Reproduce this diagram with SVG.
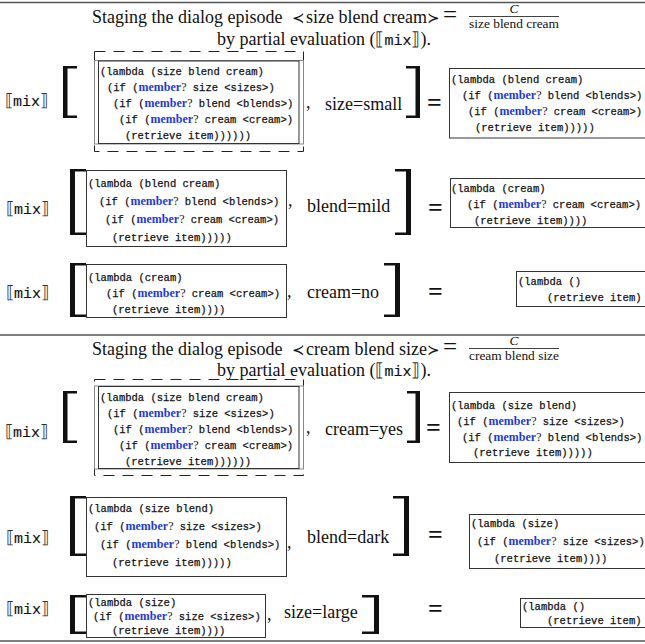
<svg xmlns="http://www.w3.org/2000/svg" width="645" height="644" viewBox="0 0 645 644">
<style>
.t{font-family:"Liberation Serif","Times New Roman","DejaVu Serif",serif;font-size:18px;fill:#111}
.sb{font-family:"DejaVu Serif",serif;fill:#333}
.mx{font-family:"Liberation Mono","DejaVu Sans Mono",monospace;font-size:15px;stroke:#111;stroke-width:0.15}
.c{font-family:"Liberation Mono","DejaVu Sans Mono",monospace;font-size:10.5px;fill:#111;stroke:#111;stroke-width:0.25}
.kw{font-family:"Liberation Serif","Times New Roman",serif;font-weight:bold;font-size:12px;fill:#1f3ad6;stroke:none}
.q{font-family:"Liberation Serif","Times New Roman",serif;font-size:12px;stroke:none}
.eq{font-family:"Liberation Serif","Times New Roman",serif;font-size:26px;font-weight:bold;fill:#111}
.fr{font-family:"Liberation Serif","Times New Roman",serif;font-size:13.4px;fill:#111}
.rel{font-family:"DejaVu Serif",serif;font-size:15px}
.box{fill:none;stroke:#333;stroke-width:1}
.gbox{fill:none;stroke:#888;stroke-width:1}
.dash{fill:none;stroke:#222;stroke-width:1;stroke-dasharray:11 8}
.br{fill:#111}
.rule{stroke:#555;stroke-width:1.5}
</style>

<g id="rules">
<line class="rule" x1="0" y1="2.5" x2="645" y2="2.5"/>
<line class="rule" x1="0" y1="335" x2="645" y2="335"/>
<line class="rule" x1="0" y1="641" x2="645" y2="641"/>
</g>

<g id="header1">
<text class="t" y="23"><tspan x="92">Staging the dialog episode </tspan><tspan class="rel" x="292">≺</tspan><tspan x="306">size blend cream</tspan><tspan class="rel" x="427">≻</tspan><tspan x="443" font-size="25">=</tspan></text>
<text class="fr" x="514" y="13" text-anchor="middle" font-style="italic">C</text>
<line x1="469" y1="16.5" x2="559" y2="16.5" stroke="#111" stroke-width="0.8"/>
<text class="fr" x="514" y="28" text-anchor="middle">size blend cream</text>
<text class="t" x="217" y="45">by partial evaluation (<tspan class="sb">⟦</tspan><tspan class="mx">mix</tspan><tspan class="sb">⟧</tspan>).</text>
</g>

<g id="row1">
<text class="t" x="5" y="106"><tspan class="sb" font-size="17">⟦</tspan><tspan class="mx">mix</tspan><tspan class="sb" font-size="17">⟧</tspan></text>
<path class="br" d="M63 66H77V68.5H67.5V115.5H77V118H63Z"/>
<g id="row1-arg">
<rect class="dash" x="94.5" y="51.5" width="209" height="100"/>
<rect class="gbox" x="94.5" y="60.5" width="209" height="83.5"/>
<rect class="box" x="98.5" y="61" width="200.5" height="82.5"/>
<text class="c" x="100" y="75">(lambda (size blend cream)</text>
<text class="c" x="107" y="91">(if (<tspan class="kw">member</tspan><tspan class="q">?</tspan> size &lt;sizes&gt;)</text>
<text class="c" x="113" y="107">(if (<tspan class="kw">member</tspan><tspan class="q">?</tspan> blend &lt;blends&gt;)</text>
<text class="c" x="119" y="123">(if (<tspan class="kw">member</tspan><tspan class="q">?</tspan> cream &lt;cream&gt;)</text>
<text class="c" x="125" y="139">(retrieve item))))))</text>
</g>
<text class="t"><tspan x="306" y="108">,</tspan><tspan x="325" y="110">size=small</tspan></text>
<path class="br" d="M420 66H406V68.5H415.5V115.5H406V118H420Z"/>
<text class="eq" x="427" y="111">=</text>
<g id="row1-result">
<rect class="box" x="449.5" y="68.5" width="250" height="69.5"/>
<text class="c" x="451" y="83">(lambda (blend cream)</text>
<text class="c" x="462" y="99">(if (<tspan class="kw">member</tspan><tspan class="q">?</tspan> blend &lt;blends&gt;)</text>
<text class="c" x="468" y="115">(if (<tspan class="kw">member</tspan><tspan class="q">?</tspan> cream &lt;cream&gt;)</text>
<text class="c" x="475" y="131">(retrieve item)))))</text>
</g>
</g>

<g id="row2">
<text class="t" x="6" y="214"><tspan class="sb" font-size="17">⟦</tspan><tspan class="mx">mix</tspan><tspan class="sb" font-size="17">⟧</tspan></text>
<path class="br" d="M70 169H86V171.5H75V232.5H86V235H70Z"/>
<g id="row2-arg">
<rect class="box" x="86.5" y="170.5" width="200" height="76"/>
<text class="c" x="88" y="187">(lambda (blend cream)</text>
<text class="c" x="99" y="205">(if (<tspan class="kw">member</tspan><tspan class="q">?</tspan> blend &lt;blends&gt;)</text>
<text class="c" x="105" y="223">(if (<tspan class="kw">member</tspan><tspan class="q">?</tspan> cream &lt;cream&gt;)</text>
<text class="c" x="112" y="241">(retrieve item)))))</text>
</g>
<text class="t"><tspan x="288" y="206">,</tspan><tspan x="307" y="212">blend=mild</tspan></text>
<path class="br" d="M411 169H395V171.5H406V232.5H395V235H411Z"/>
<text class="eq" x="428" y="216">=</text>
<g id="row2-result">
<rect class="box" x="450.5" y="178.5" width="250" height="49"/>
<text class="c" x="451" y="192">(lambda (cream)</text>
<text class="c" x="467" y="208">(if (<tspan class="kw">member</tspan><tspan class="q">?</tspan> cream &lt;cream&gt;)</text>
<text class="c" x="474" y="224">(retrieve item))))</text>
</g>
</g>

<g id="row3">
<text class="t" x="6" y="298"><tspan class="sb" font-size="17">⟦</tspan><tspan class="mx">mix</tspan><tspan class="sb" font-size="17">⟧</tspan></text>
<path class="br" d="M70 263H86V265.5H75V314.5H86V317H70Z"/>
<g id="row3-arg">
<rect class="box" x="86.5" y="264.5" width="200" height="53"/>
<text class="c" x="88" y="281">(lambda (cream)</text>
<text class="c" x="106" y="297">(if (<tspan class="kw">member</tspan><tspan class="q">?</tspan> cream &lt;cream&gt;)</text>
<text class="c" x="112" y="313">(retrieve item))))</text>
</g>
<text class="t"><tspan x="287" y="297">,</tspan><tspan x="307" y="298">cream=no</tspan></text>
<path class="br" d="M400 263H384V265.5H395V314.5H384V317H400Z"/>
<text class="eq" x="428" y="300">=</text>
<g id="row3-result">
<rect class="box" x="516.5" y="271.5" width="200" height="35"/>
<text class="c" x="518" y="285">(lambda ()</text>
<text class="c" x="547" y="301">(retrieve item)</text>
</g>
</g>

<g id="header2">
<text class="t" y="355"><tspan x="92">Staging the dialog episode </tspan><tspan class="rel" x="292">≺</tspan><tspan x="306">cream blend size</tspan><tspan class="rel" x="427">≻</tspan><tspan x="443" font-size="25">=</tspan></text>
<text class="fr" x="514" y="345" text-anchor="middle" font-style="italic">C</text>
<line x1="469" y1="348.5" x2="559" y2="348.5" stroke="#111" stroke-width="0.8"/>
<text class="fr" x="514" y="360" text-anchor="middle">cream blend size</text>
<text class="t" x="217" y="376">by partial evaluation (<tspan class="sb">⟦</tspan><tspan class="mx">mix</tspan><tspan class="sb">⟧</tspan>).</text>
</g>

<g id="row4">
<text class="t" x="5" y="437"><tspan class="sb" font-size="17">⟦</tspan><tspan class="mx">mix</tspan><tspan class="sb" font-size="17">⟧</tspan></text>
<path class="br" d="M63 391H77V393.5H67.5V440.5H77V443H63Z"/>
<g id="row4-arg">
<rect class="dash" x="94.5" y="379.5" width="209" height="96"/>
<rect class="gbox" x="94.5" y="386" width="209" height="83"/>
<rect class="box" x="98.5" y="386.5" width="200.5" height="82"/>
<text class="c" x="100" y="401">(lambda (size blend cream)</text>
<text class="c" x="107" y="417">(if (<tspan class="kw">member</tspan><tspan class="q">?</tspan> size &lt;sizes&gt;)</text>
<text class="c" x="113" y="433">(if (<tspan class="kw">member</tspan><tspan class="q">?</tspan> blend &lt;blends&gt;)</text>
<text class="c" x="119" y="449">(if (<tspan class="kw">member</tspan><tspan class="q">?</tspan> cream &lt;cream&gt;)</text>
<text class="c" x="125" y="465">(retrieve item))))))</text>
</g>
<text class="t"><tspan x="306" y="433">,</tspan><tspan x="325" y="435">cream=yes</tspan></text>
<path class="br" d="M420 391H407V393.5H415.5V440.5H407V443H420Z"/>
<text class="eq" x="426" y="436">=</text>
<g id="row4-result">
<rect class="box" x="449.5" y="392.5" width="250" height="70"/>
<text class="c" x="451" y="409">(lambda (size blend)</text>
<text class="c" x="457" y="425">(if (<tspan class="kw">member</tspan><tspan class="q">?</tspan> size &lt;sizes&gt;)</text>
<text class="c" x="462" y="441">(if (<tspan class="kw">member</tspan><tspan class="q">?</tspan> blend &lt;blends&gt;)</text>
<text class="c" x="473" y="456">(retrieve item)))))</text>
</g>
</g>

<g id="row5">
<text class="t" x="6" y="543"><tspan class="sb" font-size="17">⟦</tspan><tspan class="mx">mix</tspan><tspan class="sb" font-size="17">⟧</tspan></text>
<path class="br" d="M70 496H86V498.5H75V553.5H86V556H70Z"/>
<g id="row5-arg">
<rect class="box" x="86.5" y="497.5" width="200" height="79"/>
<text class="c" x="88" y="512">(lambda (size blend)</text>
<text class="c" x="94" y="530">(if (<tspan class="kw">member</tspan><tspan class="q">?</tspan> size &lt;sizes&gt;)</text>
<text class="c" x="100" y="548">(if (<tspan class="kw">member</tspan><tspan class="q">?</tspan> blend &lt;blends&gt;)</text>
<text class="c" x="112" y="566">(retrieve item)))))</text>
</g>
<text class="t"><tspan x="287" y="548">,</tspan><tspan x="307" y="543">blend=dark</tspan></text>
<path class="br" d="M409 496H393V498.5H404V553.5H393V556H409Z"/>
<text class="eq" x="428" y="543">=</text>
<g id="row5-result">
<rect class="box" x="469.5" y="514.5" width="230" height="54"/>
<text class="c" x="471" y="527">(lambda (size)</text>
<text class="c" x="477" y="545">(if (<tspan class="kw">member</tspan><tspan class="q">?</tspan> size &lt;sizes&gt;)</text>
<text class="c" x="494" y="562">(retrieve item))))</text>
</g>
</g>

<g id="row6">
<text class="t" x="6" y="614"><tspan class="sb" font-size="17">⟦</tspan><tspan class="mx">mix</tspan><tspan class="sb" font-size="17">⟧</tspan></text>
<path class="br" d="M70 595H86V597.5H75V631.5H86V634H70Z"/>
<g id="row6-arg">
<rect class="box" x="86.5" y="594.5" width="179" height="43"/>
<text class="c" x="88" y="606">(lambda (size)</text>
<text class="c" x="93" y="620">(if (<tspan class="kw">member</tspan><tspan class="q">?</tspan> size &lt;sizes&gt;)</text>
<text class="c" x="112" y="634">(retrieve item))))</text>
</g>
<text class="t"><tspan x="267" y="620">,</tspan><tspan x="284" y="618">size=large</tspan></text>
<path class="br" d="M379 595H362V597.5H374V631.5H362V634H379Z"/>
<text class="eq" x="428" y="617">=</text>
<g id="row6-result">
<rect class="box" x="520.5" y="598.5" width="200" height="29"/>
<text class="c" x="522" y="610">(lambda ()</text>
<text class="c" x="547" y="624">(retrieve item)</text>
</g>
</g>
</svg>
